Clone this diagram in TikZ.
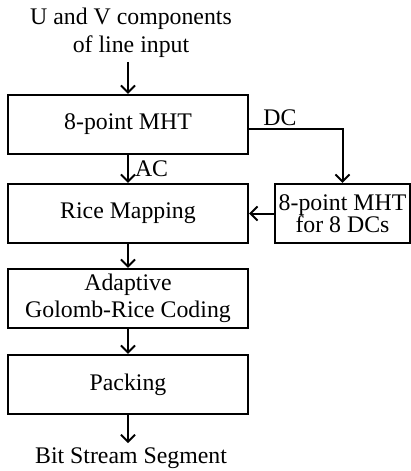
\documentclass[tikz,border=0pt]{standalone}
\usepackage{fontspec}
\setmainfont{Liberation Serif}
\usetikzlibrary{positioning,arrows.meta}
\tikzset{
  >={Straight Barb[length=3.5pt,width=7pt]},
  every node/.style={font=\fontsize{11.9}{13.8}\selectfont},
  % --- nodes
  blk/.style   = {draw=black, line width=1.1pt, align=center, inner sep=2pt,
                  minimum width=120pt, minimum height=29.5pt},
  dcblk/.style = {blk, minimum width=67.5pt},
  txt/.style   = {align=center, inner sep=2pt},
  lbl/.style   = {inner sep=1pt},
  % --- edges
  e/.style     = {->, line width=1pt},
}
\begin{document}
\begin{tikzpicture}[x=0.5pt,y=-0.5pt]
  \useasboundingbox (0,0) rectangle (411,471);

  \node[txt] (inp) at (131,33) {U and V components\\of line input};
  \node[blk] (mht) at (128,124.5) {8-point MHT};
  \node[blk] (rice) at (128,213.5) {Rice Mapping};
  \node[dcblk] (dcmht) at (342.5,213.5) {8-point MHT\\[-3pt]for 8 DCs};
  \node[blk] (golomb) at (128,298.5) {Adaptive\\Golomb-Rice Coding};
  \node[blk] (pack) at (128,384.5) {Packing};
  \node[txt] (outp) at (131,458) {Bit Stream Segment};

  \draw[e] (inp.south -| mht.north) -- (mht.north);
  \draw[e] (mht) -- node[lbl, right, xshift=2pt] {AC} (rice);
  \draw[e] ([yshift=-2pt]mht.east) -| node[lbl, pos=0.05, above right, xshift=1pt] {DC} (dcmht.north);
  \draw[e] (dcmht) -- (rice);
  \draw[e] (rice) -- (golomb);
  \draw[e] (golomb) -- (pack);
  \draw[e] (pack.south) -- (pack.south |- outp.north);
\end{tikzpicture}
\end{document}
